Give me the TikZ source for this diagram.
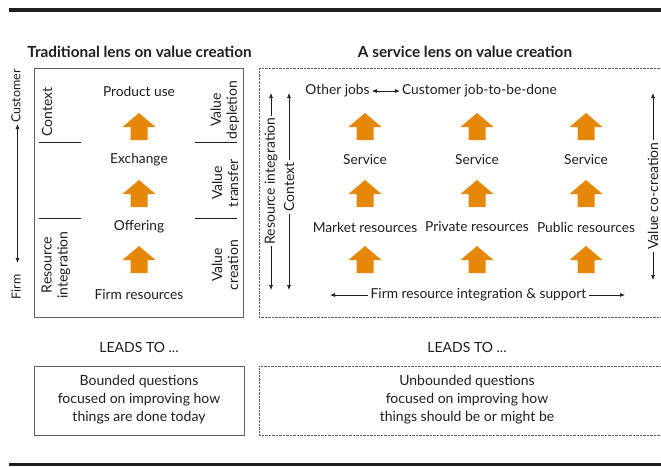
\documentclass[tikz,border=0pt]{standalone}
\usepackage{fontspec}
\setmainfont{Lato}
\usetikzlibrary{arrows.meta}

\definecolor{arrowfill}{RGB}{229,135,8}
\definecolor{framegray}{RGB}{95,95,95}
\definecolor{textdark}{RGB}{30,30,30}

\begin{document}
\begin{tikzpicture}[x=1pt,y=-1pt,
  lbl/.style={font=\fontsize{13.75}{16}\selectfont, text=textdark, inner sep=1pt},
  small/.style={font=\fontsize{14}{18}\selectfont, text=textdark, inner sep=1pt, align=center},
  side/.style={lbl, rotate=90, align=center, font=\fontsize{14}{16}\selectfont},
  axislbl/.style={side, font=\fontsize{12.5}{15}\selectfont},
  title/.style={font=\bfseries\fontsize{15.3}{18}\selectfont, text=textdark, inner sep=0pt},
  solidframe/.style={draw=framegray, line width=0.9pt},
  dotframe/.style={draw=framegray, line width=0.7pt, dash pattern=on 0.7pt off 0.7pt},
  divider/.style={draw=textdark, line width=0.7pt},
  thin/.style={draw=textdark, line width=0.7pt},
  twoway/.style={thin, {Latex[length=5pt,width=4pt]}-{Latex[length=5pt,width=4pt]}},
  oneway/.style={thin, -{Latex[length=5pt,width=4pt]}},
  onbar/.style={side, fill=white, inner sep=2pt},
  uparrow/.pic={\fill[arrowfill] (-8.5,13) -- (-8.5,0) -- (-16.5,0) -- (0,-14) -- (16.5,0) -- (8.5,0) -- (8.5,13) -- cycle;}
]
\useasboundingbox (0,0) rectangle (661,466);

% heavy rules at top and bottom
\draw[line width=4pt, textdark] (9,10) -- (670,10);
\draw[line width=3pt, textdark] (9,464) -- (670,464);

% headings
\node[title] (t1) at (139.5,52) {Traditional lens on value creation};
\node[title] (t2) at (465,52) {A service lens on value creation};

% ---------------- traditional lens ----------------
\draw[solidframe] (34,68) rectangle (243,317);

\node[lbl] (pu) at (139,91) {Product use};
\node[lbl] (ex) at (139,160) {Exchange};
\node[lbl] (of) at (139,227) {Offering};
\node[lbl] (fr) at (139,295) {Firm resources};
\pic (a1) at (139,127) {uparrow};
\pic (a2) at (139,194) {uparrow};
\pic (a3) at (139,260) {uparrow};

\node[side] (ctx) at (47,112) {Context};
\node[side] (ri) at (56,265) {Resource\\integration};
\node[side] (vd) at (225,110) {Value\\depletion};
\node[side] (vt) at (225,183) {Value\\transfer};
\node[side] (vc) at (225,265) {Value\\creation};

\draw[divider] (39,142) -- (81,142);
\draw[divider] (39,218) -- (81,218);
\draw[divider] (195,142) -- (237,142);
\draw[divider] (195,218) -- (237,218);

% customer / firm axis
\node[axislbl] (cust) at (16,96) {Customer};
\node[axislbl] (firm) at (16,287) {Firm};
\coordinate (cu) at (17.5,124);
\coordinate (fi) at (17.5,263);
\draw[twoway] (cu) -- (fi);

% ---------------- service lens ----------------
\draw[dotframe] (259,68) -- (680,68) (259,68) -- (259,317) -- (680,317);

\coordinate (rtop) at (271,93);
\coordinate (rbot) at (271,290);
\draw[twoway] (rtop) -- (rbot);
\node[onbar] (rint) at (271,181) {Resource integration};
\coordinate (ctop) at (289,93);
\coordinate (cbot) at (289,290);
\draw[twoway] (ctop) -- (cbot);
\node[onbar] (cctx) at (289,187) {Context};
\coordinate (vtop) at (653,93);
\coordinate (vbot) at (653,280);
\draw[twoway] (vtop) -- (vbot);
\node[onbar] (vcc) at (653,196) {Value co-creation};

\node[lbl] (oj) at (337.5,91) {Other jobs};
\node[lbl] (cj) at (479.5,91) {Customer job-to-be-done};
\draw[twoway] ([xshift=1pt]oj.east) -- ([xshift=-1pt]cj.west);

\foreach \c/\n in {365/m,477/p,586/u}{
  \pic at (\c,127) {uparrow};
  \pic at (\c,194) {uparrow};
  \pic at (\c,260) {uparrow};
  \node[lbl] (s\n) at (\c,160) {Service};
}
\node[lbl] (mr) at (365,227) {Market resources};
\node[lbl] (pr) at (477,227) {Private resources};
\node[lbl] (ur) at (586,227) {Public resources};

\node[lbl] (fri) at (478.5,295) {Firm resource integration \& support};
\coordinate (fl) at (330,295);
\coordinate (frr) at (625,295);
\draw[oneway] ([xshift=-2pt]fri.west) -- (fl);
\draw[oneway] ([xshift=2pt]fri.east) -- (frr);

% ---------------- outcomes ----------------
\node[small] (l1) at (139,347) {LEADS TO ...};
\node[small] (l2) at (467,347) {LEADS TO ...};
\draw[solidframe] (34,366) rectangle (244,435);
\draw[dotframe] (680,366) -- (259,366) -- (259,435) -- (680,435);
\node[small] (q1) at (139,400) {Bounded questions\\focused on improving how\\things are done today};
\node[small] (q2) at (467,400) {Unbounded questions\\focused on improving how\\things should be or might be};
\end{tikzpicture}
\end{document}
